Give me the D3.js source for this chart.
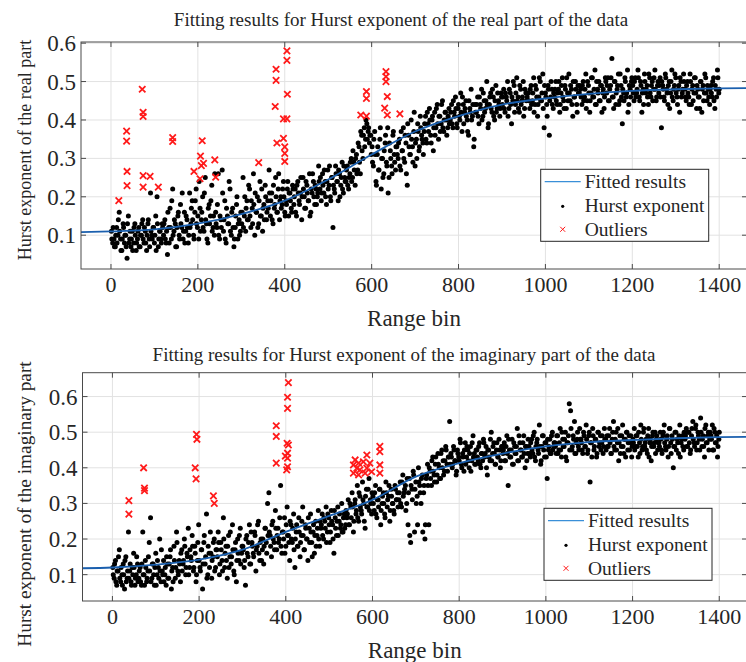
<!DOCTYPE html>
<html lang="en">
<head>
    <meta charset="UTF-8">
    <title>Hurst exponent fitting</title>
    <script src="https://d3js.org/d3.v7.min.js"></script>
    <style>
    body { margin: 0; background: #fff; }
    svg text { font-family: "Liberation Serif", "Times New Roman", serif; fill: #262626; }
    .grid line { stroke: #e2e2e2; stroke-width: 1px; }
    .frame { fill: none; stroke: #4a4a4a; stroke-width: 1px; }
    .tick-mark { stroke: #4a4a4a; stroke-width: 1px; }
    .fit { fill: none; stroke: #1a5fae; stroke-width: 1.8px; }
    .outlier { fill: none; stroke: #ff1a1a; stroke-width: 1.8px; }
    </style>
</head>
<body>
<svg id="chart" width="746" height="662"></svg>
<script>
    // every array of dots holds one value per 3 range bins
    const binStep = 3;

    // Hurst exponent, real part, bins 1, 4, 7 ... 1399 (one row = 20 values)
    const realHurstA = [
        .11,.08,.09,.07,.12,.10,.16,.09,.06,.13,.08,.10,.04,.15,.09,.07,.11,.08,.13,.06,
        .09,.12,.07,.10,.14,.08,.11,.06,.13,.09,.21,.10,.12,.08,.15,.20,.07,.11,.09,.13,
        .10,.14,.08,.05,.12,.17,.09,.22,.11,.13,.07,.15,.10,.18,.12,.09,.16,.11,.14,.08,
        .21,.13,.19,.10,.16,.22,.12,.09,.17,.14,.20,.11,.25,.13,.08,.18,.15,.23,.12,.10,
        .16,.12,.26,.09,.14,.27,.11,.19,.08,.15,.13,.22,.10,.17,.07,.12,.18,.09,.14,.11,
        .13,.25,.15,.11,.19,.14,.22,.12,.17,.26,.10,.16,.20,.13,.24,.15,.11,.18,.23,.14,
        .19,.27,.15,.21,.13,.17,.25,.16,.22,.14,.20,.18,.24,.16,.19,.22,.15,.21,.17,.23,
        .18,.22,.15,.24,.19,.21,.14,.25,.20,.17,.23,.19,.26,.16,.21,.24,.18,.22,.20,.28,
        .22,.19,.26,.21,.24,.18,.27,.23,.20,.25,.12,.22,.28,.24,.19,.26,.23,.29,.21,.25,
        .24,.28,.22,.26,.30,.25,.29,.23,.31,.27,.33,.26,.36,.30,.38,.35,.39,.37,.34,.36,
        .33,.28,.37,.24,.31,.27,.35,.22,.30,.26,.34,.29,.38,.25,.32,.28,.36,.31,.27,.33,
        .30,.35,.27,.32,.38,.29,.34,.23,.36,.31,.40,.33,.37,.28,.35,.39,.32,.41,.36,.34,
        .37,.41,.34,.39,.43,.36,.40,.32,.42,.38,.44,.35,.41,.39,.45,.37,.42,.40,.38,.43,
        .40,.44,.38,.42,.46,.39,.43,.41,.47,.37,.44,.42,.45,.40,.36,.43,.48,.41,.33,.44,
        .42,.46,.39,.44,.48,.41,.45,.43,.50,.38,.44,.47,.42,.46,.40,.49,.43,.45,.41,.47,
        .44,.48,.42,.46,.50,.43,.47,.39,.45,.49,.44,.51,.46,.42,.48,.45,.50,.43,.47,.46,
        .47,.43,.49,.45,.51,.44,.48,.41,.46,.50,.45,.52,.38,.47,.44,.49,.36,.46,.48,.43,
        .46,.50,.44,.48,.42,.47,.51,.45,.49,.43,.47,.52,.45,.48,.41,.46,.50,.44,.49,.47,
        .48,.44,.50,.46,.52,.45,.49,.42,.47,.51,.46,.53,.44,.48,.50,.45,.49,.47,.43,.51,
        .47,.51,.45,.49,.56,.46,.50,.44,.48,.52,.45,.49,.39,.47,.51,.46,.53,.44,.48,.50,
        .49,.45,.51,.47,.53,.46,.50,.42,.48,.52,.47,.49,.44,.51,.46,.50,.48,.53,.45,.49,
        .47,.51,.38,.49,.46,.52,.48,.44,.50,.47,.53,.45,.49,.51,.46,.48,.42,.50,.47,.52,
        .48,.45,.50,.46,.52,.44,.49,.47,.51,.43,.48,.46,.50,.42,.49,.47,.51,.45,.48,.44,
        .49,.46,.51,.43,.48,.53,.47
    ];
    // real part, bins 2, 5, 8 ... 1400
    const realHurstB = [
        .09,.12,.07,.10,.08,.14,.11,.06,.09,.12,.10,.07,.13,.08,.11,.09,.06,.12,.10,.08,
        .11,.07,.10,.13,.09,.12,.08,.10,.14,.07,.11,.09,.12,.10,.06,.13,.09,.11,.08,.12,
        .13,.09,.11,.16,.08,.12,.19,.10,.14,.07,.12,.16,.09,.13,.21,.11,.08,.15,.12,.10,
        .12,.17,.14,.09,.19,.13,.15,.24,.11,.16,.12,.21,.14,.09,.17,.13,.19,.11,.15,.26,
        .13,.18,.10,.15,.12,.21,.14,.09,.17,.13,.24,.11,.16,.12,.09,.15,.20,.13,.10,.16,
        .16,.12,.20,.17,.14,.23,.15,.19,.13,.18,.21,.16,.12,.19,.15,.22,.17,.14,.20,.16,
        .17,.21,.19,.14,.23,.18,.20,.16,.26,.19,.17,.22,.20,.15,.18,.24,.21,.19,.16,.22,
        .20,.16,.23,.21,.18,.25,.20,.22,.17,.24,.21,.19,.15,.22,.26,.20,.23,.18,.21,.24,
        .25,.21,.23,.27,.20,.24,.22,.28,.19,.25,.23,.21,.26,.24,.27,.20,.25,.22,.28,.24,
        .27,.23,.25,.29,.24,.32,.27,.30,.26,.34,.29,.37,.32,.36,.33,.40,.35,.38,.36,.31,
        .29,.35,.31,.23,.33,.27,.38,.30,.25,.32,.36,.28,.21,.34,.30,.26,.37,.29,.33,.31,
        .34,.28,.37,.32,.30,.36,.26,.39,.33,.31,.35,.29,.42,.34,.30,.37,.33,.38,.35,.31,
        .39,.35,.42,.37,.40,.34,.41,.38,.36,.43,.39,.41,.37,.44,.38,.40,.42,.36,.41,.39,
        .42,.39,.45,.41,.43,.38,.44,.40,.42,.46,.39,.43,.41,.37,.45,.42,.40,.44,.35,.42,
        .44,.41,.46,.43,.40,.47,.42,.45,.44,.39,.46,.43,.48,.41,.45,.42,.47,.44,.43,.46,
        .46,.43,.47,.45,.41,.48,.44,.46,.50,.42,.47,.45,.43,.49,.44,.46,.41,.48,.45,.47,
        .45,.48,.44,.47,.42,.49,.46,.44,.51,.45,.47,.43,.49,.46,.41,.48,.45,.50,.44,.47,
        .48,.45,.47,.50,.44,.49,.46,.43,.48,.51,.45,.47,.49,.44,.50,.46,.48,.42,.47,.49,
        .46,.49,.45,.48,.43,.50,.47,.45,.51,.46,.48,.44,.50,.47,.45,.49,.42,.48,.46,.50,
        .49,.45,.48,.51,.46,.43,.50,.47,.49,.44,.52,.46,.48,.45,.50,.47,.42,.49,.46,.51,
        .47,.50,.46,.48,.51,.45,.49,.47,.44,.50,.48,.46,.52,.47,.49,.45,.51,.48,.46,.50,
        .49,.46,.50,.48,.45,.51,.47,.49,.43,.50,.46,.48,.52,.47,.44,.49,.51,.46,.48,.50,
        .46,.49,.47,.44,.50,.48,.45,.51,.47,.49,.46,.43,.50,.48,.45,.52,.47,.49,.46,.48,
        .47,.50,.45,.49,.46,.51,.48
    ];

    // Hurst exponent, imaginary part, bins 1, 4, 7 ... 1399
    const imagHurstA = [
        .12,.09,.14,.07,.11,.17,.08,.10,.13,.06,.15,.09,.22,.11,.08,.12,.16,.07,.10,.13,
        .09,.12,.07,.22,.10,.14,.08,.11,.19,.26,.09,.13,.07,.16,.10,.12,.20,.08,.11,.14,
        .10,.07,.13,.09,.15,.06,.12,.18,.09,.22,.11,.14,.08,.17,.13,.20,.10,.16,.23,.12,
        .15,.21,.11,.18,.08,.14,.24,.12,.17,.06,.19,.13,.27,.10,.16,.22,.09,.15,.20,.12,
        .17,.22,.10,.19,.14,.26,.12,.18,.09,.21,.15,.13,.24,.11,.17,.08,.20,.14,.23,.16,
        .18,.12,.07,.21,.15,.24,.13,.19,.16,.22,.11,.18,.25,.14,.20,.17,.13,.23,.19,.30,
        .33,.21,.15,.25,.19,.28,.17,.23,.20,.35,.16,.22,.26,.18,.29,.21,.14,.24,.19,.27,
        .12,.22,.18,.26,.15,.21,.29,.17,.24,.20,.14,.23,.27,.19,.22,.16,.25,.21,.28,.18,
        .23,.27,.20,.25,.29,.22,.26,.19,.28,.24,.16,.26,.21,.29,.25,.23,.30,.22,.27,.24,
        .26,.31,.24,.29,.33,.22,.30,.27,.35,.25,.32,.28,.36,.30,.23,.34,.29,.37,.31,.27,
        .32,.28,.35,.26,.31,.34,.24,.30,.33,.27,.36,.29,.32,.25,.34,.30,.28,.35,.31,.33,
        .31,.36,.29,.38,.33,.35,.30,.24,.37,.19,.34,.39,.22,.36,.32,.40,.35,.30,.38,.33,
        .20,.37,.41,.24,.39,.35,.43,.38,.41,.36,.44,.40,.37,.45,.42,.39,.46,.41,.43,.53,
        .44,.40,.46,.42,.38,.45,.43,.48,.41,.44,.39,.47,.43,.45,.40,.46,.42,.49,.44,.41,
        .45,.42,.47,.40,.44,.48,.43,.46,.38,.45,.42,.50,.44,.47,.41,.45,.43,.48,.40,.46,
        .44,.47,.42,.49,.35,.45,.43,.48,.41,.46,.44,.51,.42,.47,.45,.43,.49,.40,.46,.44,
        .46,.43,.48,.44,.50,.42,.47,.45,.52,.41,.46,.49,.43,.47,.37,.45,.48,.44,.50,.46,
        .47,.44,.49,.45,.51,.43,.48,.46,.50,.42,.47,.58,.56,.45,.49,.53,.44,.48,.46,.51,
        .48,.45,.50,.46,.52,.44,.49,.36,.47,.51,.45,.48,.43,.50,.46,.49,.47,.44,.51,.48,
        .49,.46,.51,.44,.48,.53,.45,.50,.47,.42,.49,.46,.52,.44,.48,.50,.45,.49,.47,.43,
        .48,.51,.46,.49,.43,.47,.52,.45,.50,.46,.48,.44,.51,.47,.42,.49,.46,.50,.48,.45,
        .47,.50,.45,.49,.52,.46,.48,.43,.51,.47,.49,.40,.46,.50,.48,.44,.52,.47,.49,.45,
        .48,.51,.46,.50,.44,.49,.53,.47,.51,.45,.50,.48,.54,.46,.49,.43,.52,.47,.50,.48,
        .49,.52,.45,.50,.47,.43,.48
    ];
    // imaginary part, bins 2, 5, 8 ... 1400
    const imagHurstB = [
        .10,.13,.08,.11,.15,.09,.12,.07,.10,.14,.08,.11,.09,.13,.07,.10,.12,.09,.15,.08,
        .11,.08,.13,.10,.07,.12,.09,.15,.11,.08,.13,.10,.12,.07,.14,.09,.11,.17,.10,.08,
        .12,.15,.09,.13,.17,.11,.08,.14,.12,.19,.10,.13,.16,.11,.14,.18,.12,.15,.10,.17,
        .14,.18,.12,.16,.10,.19,.14,.11,.17,.13,.21,.15,.09,.18,.12,.16,.14,.19,.11,.17,
        .15,.19,.13,.17,.11,.20,.16,.14,.18,.12,.22,.15,.17,.10,.19,.14,.16,.21,.13,.18,
        .17,.14,.20,.16,.19,.13,.22,.18,.15,.21,.17,.24,.16,.19,.14,.20,.18,.23,.16,.21,
        .22,.18,.24,.20,.17,.23,.21,.19,.26,.18,.22,.20,.16,.24,.21,.19,.25,.20,.23,.17,
        .20,.24,.18,.22,.19,.25,.21,.17,.23,.20,.26,.19,.22,.15,.24,.21,.18,.23,.20,.25,
        .24,.21,.26,.23,.19,.27,.24,.22,.25,.20,.28,.23,.25,.21,.27,.24,.22,.26,.23,.28,
        .27,.24,.30,.26,.29,.25,.31,.28,.26,.33,.29,.27,.31,.25,.32,.29,.34,.28,.30,.33,
        .30,.33,.27,.31,.29,.34,.28,.32,.30,.26,.33,.31,.35,.28,.32,.30,.27,.34,.31,.29,
        .33,.30,.36,.32,.34,.28,.37,.33,.21,.35,.31,.38,.34,.30,.24,.36,.33,.37,.22,.35,
        .24,.38,.35,.40,.37,.42,.39,.36,.43,.38,.41,.37,.44,.40,.38,.42,.45,.39,.43,.41,
        .43,.41,.45,.42,.39,.44,.42,.47,.40,.43,.45,.41,.46,.42,.44,.39,.47,.43,.41,.45,
        .43,.46,.41,.44,.42,.47,.44,.40,.45,.43,.48,.42,.46,.44,.41,.47,.43,.45,.42,.46,
        .45,.42,.46,.44,.48,.43,.45,.41,.47,.44,.46,.42,.49,.45,.43,.47,.44,.46,.42,.48,
        .44,.47,.45,.49,.43,.46,.48,.44,.46,.42,.49,.45,.47,.43,.48,.46,.44,.49,.45,.47,
        .46,.49,.44,.47,.45,.50,.46,.48,.43,.47,.49,.45,.51,.46,.48,.44,.47,.50,.45,.48,
        .47,.44,.49,.46,.48,.45,.50,.47,.43,.49,.46,.48,.44,.50,.47,.45,.49,.46,.48,.45,
        .46,.49,.47,.44,.50,.46,.48,.45,.51,.47,.44,.49,.46,.48,.43,.50,.47,.45,.49,.46,
        .47,.45,.49,.46,.50,.44,.48,.46,.51,.47,.45,.49,.43,.48,.46,.50,.47,.44,.49,.47,
        .46,.48,.44,.50,.47,.45,.49,.46,.51,.44,.48,.46,.50,.45,.47,.49,.43,.48,.46,.50,
        .49,.46,.50,.47,.45,.51,.48,.46,.52,.47,.49,.45,.50,.48,.46,.51,.47,.49,.45,.50,
        .48,.45,.51,.47,.49,.46,.50
    ];

    // outliers [range bin, value]
    const realOutliers = [
        [18,.19],[36,.371],[36,.345],[37,.266],[37,.229],[72,.48],[74,.42],[74,.409],
        [74,.255],[74,.225],[90,.253],[109,.225],[142,.354],[142,.344],[191,.266],[205,.247],
        [206,.306],[208,.281],[213,.287],[210,.346],[239,.296],[241,.251],[340,.289],
        [378,.435],[380,.532],[380,.503],[382,.34],[397,.352],[397,.403],[400,.33],
        [400,.313],[400,.292],[405,.403],[405,.58],[405,.555],[406,.467],
        [575,.413],[588,.41],[588,.474],[588,.456],[630,.431],[633,.526],[633,.513],
        [633,.5],[636,.461],[636,.413],[665,.416]
    ];
    const imagOutliers = [
        [38,.308],[38,.27],[72,.4],[74,.343],[74,.336],[191,.4],[193,.369],[194,.494],
        [195,.48],[233,.321],[235,.3],[378,.518],[378,.488],[378,.413],[403,.469],
        [406,.464],[404,.441],[399,.433],[404,.427],[404,.403],[402,.394],[406,.639],
        [404,.598],[404,.567],
        [560,.422],[568,.413],[579,.417],[594,.413],[556,.408],[564,.399],[571,.394],
        [587,.399],[556,.385],[568,.38],[583,.385],[598,.389],[587,.436],[617,.46],
        [617,.445],[617,.408],[617,.385]
    ];

    // fitted curves [range bin, value]
    const realFit = [
        [-69,.108],[0,.11],[100,.115],[200,.13],[300,.155],[400,.19],[500,.245],[600,.31],
        [700,.37],[800,.41],[900,.44],[1000,.456],[1100,.468],[1200,.476],[1300,.48],
        [1400,.482],[1464,.483]
    ];
    const imagFit = [
        [-69,.118],[0,.12],[100,.128],[200,.142],[300,.17],[400,.22],[500,.265],[600,.31],
        [700,.375],[800,.413],[900,.44],[1000,.46],[1100,.472],[1200,.478],[1300,.483],
        [1400,.486],[1464,.487]
    ];

    const xTicks = [0, 200, 400, 600, 800, 1000, 1200, 1400];
    const yTicks = [0.1, 0.2, 0.3, 0.4, 0.5, 0.6];
    const legendLabels = ["Fitted results", "Hurst exponent", "Outliers"];

    const svg = d3.select("#chart");

    function drawPanel(p) {
        const x = d3.scaleLinear().domain([-69, 1464]).range([p.left, p.right]);
        const y = d3.scaleLinear().domain(p.yDomain).range([p.bottom, p.top]);
        const g = svg.append("g");

        // [bin, value] pairs from the dot arrays
        const dots = p.hurst.flatMap(s => s.values.map((v, i) => [s.start + i * binStep, v]));

        // clip so the fitted line stops at the frame
        g.append("clipPath").attr("id", p.id + "-clip")
            .append("rect")
            .attr("x", p.left).attr("y", p.top)
            .attr("width", p.right - p.left).attr("height", p.bottom - p.top);

        // grid
        const grid = g.append("g").attr("class", "grid");
        grid.selectAll(".gx").data(xTicks).enter().append("line")
            .attr("x1", d => x(d)).attr("x2", d => x(d))
            .attr("y1", p.top).attr("y2", p.bottom);
        grid.selectAll(".gy").data(yTicks).enter().append("line")
            .attr("x1", p.left).attr("x2", p.right)
            .attr("y1", d => y(d)).attr("y2", d => y(d));

        // data dots
        g.append("g").selectAll("circle")
            .data(dots)
            .enter().append("circle")
            .attr("cx", d => x(d[0]))
            .attr("cy", d => y(d[1]))
            .attr("r", 2.5)
            .attr("fill", "#000");

        // fitted line
        const line = d3.line()
            .x(d => x(d[0])).y(d => y(d[1]))
            .curve(d3.curveMonotoneX);
        g.append("path")
            .datum(p.fit)
            .attr("class", "fit")
            .attr("clip-path", `url(#${p.id}-clip)`)
            .attr("d", line);

        // outliers as red crosses
        g.append("g").selectAll("path")
            .data(p.outliers)
            .enter().append("path")
            .attr("class", "outlier")
            .attr("transform", d => `translate(${x(d[0])},${y(d[1])})`)
            .attr("d", "M-3.2,-3.2L3.2,3.2M-3.2,3.2L3.2,-3.2");

        // frame and inward ticks (MATLAB style)
        g.append("rect").attr("class", "frame")
            .attr("x", p.left).attr("y", p.top)
            .attr("width", p.right - p.left).attr("height", p.bottom - p.top);
        const ticks = g.append("g");
        xTicks.forEach(t => {
            ticks.append("line").attr("class", "tick-mark")
                .attr("x1", x(t)).attr("x2", x(t)).attr("y1", p.bottom).attr("y2", p.bottom - 5);
            ticks.append("line").attr("class", "tick-mark")
                .attr("x1", x(t)).attr("x2", x(t)).attr("y1", p.top).attr("y2", p.top + 5);
        });
        yTicks.forEach(t => {
            ticks.append("line").attr("class", "tick-mark")
                .attr("x1", p.left).attr("x2", p.left + 5).attr("y1", y(t)).attr("y2", y(t));
            ticks.append("line").attr("class", "tick-mark")
                .attr("x1", p.right - 5).attr("x2", p.right).attr("y1", y(t)).attr("y2", y(t));
        });

        // tick labels
        g.selectAll(".xl").data(xTicks).enter().append("text")
            .attr("x", d => x(d)).attr("y", p.bottom + 23)
            .attr("text-anchor", "middle")
            .style("font-size", "22px")
            .text(d => d);
        g.selectAll(".yl").data(yTicks).enter().append("text")
            .attr("x", p.left - 5).attr("y", d => y(d))
            .attr("dy", "0.35em")
            .attr("text-anchor", "end")
            .style("font-size", "23px")
            .text(d => d3.format(".1f")(d));

        // axis labels and title
        g.append("text")
            .attr("x", (p.left + p.right) / 2).attr("y", p.bottom + 57)
            .attr("text-anchor", "middle")
            .style("font-size", "23px")
            .text("Range bin");
        g.append("text")
            .attr("transform", `translate(31,${p.ylabelY}) rotate(-90)`)
            .attr("text-anchor", "middle")
            .style("font-size", p.ylabelSize + "px")
            .text(p.ylabel);
        g.append("text")
            .attr("x", p.titleX).attr("y", p.titleY)
            .attr("text-anchor", "middle")
            .style("font-size", "19px")
            .text(p.title);

        // legend
        const lg = g.append("g").attr("transform", `translate(${p.legendX},${p.legendY})`);
        lg.append("rect")
            .attr("width", 168).attr("height", 72)
            .attr("fill", "#fff").attr("stroke", "#262626").attr("stroke-width", 1);
        lg.append("line")
            .attr("x1", 4).attr("x2", 40).attr("y1", 12.4).attr("y2", 12.4)
            .attr("stroke", "#3a8fd8").attr("stroke-width", 1.2);
        lg.append("circle").attr("cx", 22).attr("cy", 37).attr("r", 1.6).attr("fill", "#000");
        lg.append("path")
            .attr("transform", "translate(22,60)")
            .attr("d", "M-2.5,-2.5L2.5,2.5M-2.5,2.5L2.5,-2.5")
            .attr("stroke", "#ff1a1a").attr("stroke-width", 1);
        lg.selectAll(".lt").data(legendLabels).enter().append("text")
            .attr("x", 44).attr("y", (d, i) => 19 + i * 23.8)
            .style("font-size", "19.5px")
            .text(d => d);
    }

    drawPanel({
        id: "real", left: 81, right: 747, top: 42, bottom: 269,
        yDomain: [0.012, 0.603],
        hurst: [{ start: 1, values: realHurstA }, { start: 2, values: realHurstB }],
        outliers: realOutliers, fit: realFit,
        title: "Fitting results for Hurst exponent of the real part of the data",
        titleX: 401, titleY: 26,
        ylabel: "Hurst exponent of the real part", ylabelSize: 18, ylabelY: 150,
        legendX: 540.7, legendY: 169.3
    });

    drawPanel({
        id: "imag", left: 82.5, right: 747, top: 372.7, bottom: 601,
        yDomain: [0.026, 0.667],
        hurst: [{ start: 1, values: imagHurstA }, { start: 2, values: imagHurstB }],
        outliers: imagOutliers, fit: imagFit,
        title: "Fitting results for Hurst exponent of the imaginary part of the data",
        titleX: 404, titleY: 360.5,
        ylabel: "Hurst exponent of the imaginary part", ylabelSize: 19.3, ylabelY: 504,
        legendX: 544, legendY: 508.3
    });
</script>
</body>
</html>
